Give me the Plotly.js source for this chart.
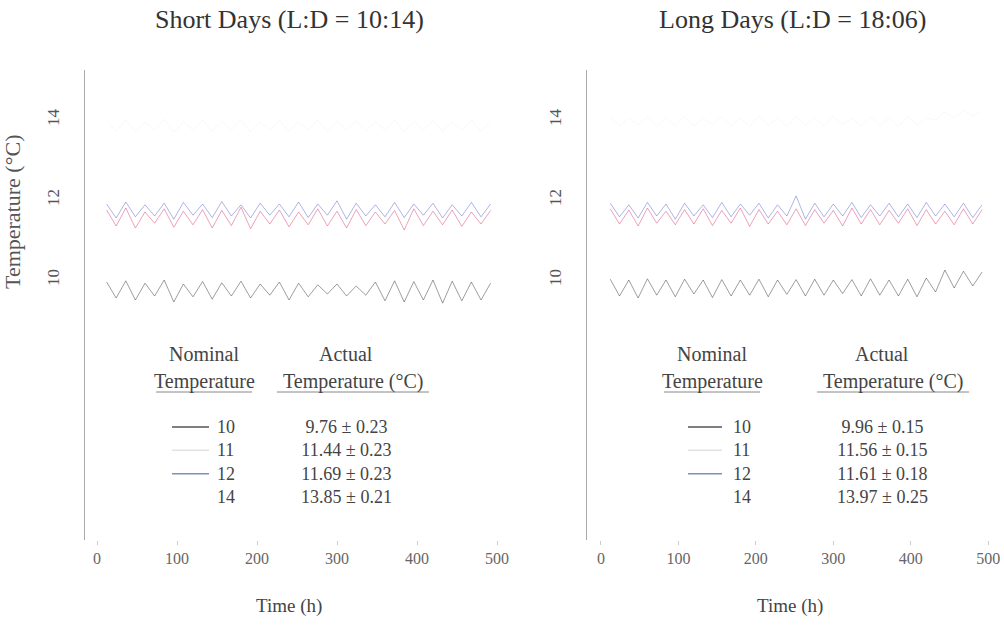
<!DOCTYPE html>
<html>
<head>
<meta charset="utf-8">
<script src="https://cdn.plot.ly/plotly-3.0.1.min.js"></script>
<style>html,body{margin:0;padding:0;background:#fff;}#chart{width:1004px;height:631px;}</style>
</head>
<body>
<div id="chart"></div>
<script>
// ---- data (12-h samples) ----
const timeH = [12,24,36,48,60,72,84,96,108,120,132,144,156,168,180,192,204,216,228,240,252,264,276,288,300,312,324,336,348,360,372,384,396,408,420,432,444,456,468,480,492];

const shortT10 = [9.95,9.55,9.98,9.50,9.92,9.60,10.0,9.45,9.90,9.58,9.96,9.52,9.93,9.60,9.97,9.55,9.90,9.62,9.95,9.50,9.92,9.58,9.88,9.65,9.90,9.60,9.85,9.62,9.95,9.48,9.98,9.45,9.96,9.50,10.0,9.42,9.97,9.48,9.95,9.50,9.92];
const shortT11 = [11.75,11.35,11.80,11.30,11.70,11.42,11.78,11.32,11.72,11.38,11.76,11.30,11.74,11.36,11.82,11.28,11.72,11.40,11.75,11.33,11.70,11.38,11.78,11.35,11.72,11.30,11.76,11.36,11.70,11.40,11.74,11.25,11.78,11.36,11.72,11.38,11.75,11.34,11.70,11.40,11.74];
const shortT12 = [11.90,11.55,11.95,11.58,11.88,11.60,11.92,11.52,11.94,11.62,11.90,11.56,11.96,11.60,11.88,11.55,11.92,11.62,11.90,11.58,11.95,11.56,11.90,11.62,11.98,11.52,11.92,11.60,11.88,11.58,11.94,11.56,11.90,11.62,11.92,11.55,11.88,11.60,11.94,11.58,11.90];
const shortT14 = [13.98,13.72,14.00,13.70,13.95,13.75,14.02,13.70,13.96,13.74,14.00,13.72,13.97,13.75,14.01,13.70,13.95,13.76,13.99,13.72,13.96,13.74,14.00,13.71,13.97,13.75,13.98,13.72,13.96,13.74,14.00,13.70,13.97,13.75,13.99,13.72,13.96,13.74,14.00,13.72,13.97];

const longT10 = [10.02,9.60,10.00,9.55,10.03,9.62,10.00,9.58,10.02,9.65,10.00,9.56,10.01,9.60,10.00,9.62,10.02,9.58,10.00,9.64,10.01,9.60,10.02,9.62,10.00,9.66,10.01,9.60,10.03,9.62,10.00,9.60,10.02,9.58,10.05,9.70,10.25,9.80,10.22,9.85,10.20];
const longT11 = [11.78,11.40,11.75,11.35,11.80,11.42,11.72,11.38,11.76,11.40,11.78,11.36,11.74,11.42,11.80,11.34,11.76,11.40,11.72,11.38,11.78,11.36,11.76,11.42,11.74,11.35,11.80,11.40,11.76,11.38,11.74,11.42,11.78,11.36,11.76,11.40,11.72,11.38,11.78,11.40,11.76];
const longT12 = [11.92,11.58,11.88,11.55,11.94,11.60,11.90,11.52,11.92,11.60,11.88,11.56,11.94,11.58,11.90,11.62,11.92,11.55,11.88,11.60,12.10,11.52,11.92,11.58,11.90,11.60,11.94,11.56,11.88,11.60,11.92,11.58,11.90,11.56,11.94,11.60,11.90,11.58,11.92,11.56,11.88];
const longT14 = [14.10,13.85,14.05,13.88,14.08,13.84,14.06,13.86,14.10,13.85,14.04,13.88,14.08,13.86,14.06,13.84,14.10,13.87,14.05,13.85,14.08,13.86,14.06,13.84,14.10,13.88,14.05,13.85,14.08,13.86,14.06,13.84,14.10,13.87,14.05,14.00,14.20,14.05,14.25,14.10,14.22];

const nominal = ["10","11","12","14"];
const actualShort = ["9.76 ± 0.23","11.44 ± 0.23","11.69 ± 0.23","13.85 ± 0.21"];
const actualLong = ["9.96 ± 0.15","11.56 ± 0.15","11.61 ± 0.18","13.97 ± 0.25"];
const xTicks = [0,100,200,300,400,500];
const yTicks = [10,12,14];

// ---- styling ----
const W = 1004, H = 631;
const xp = px => px / W, yp = py => 1 - py / H;
const serif = "Liberation Serif";
const lineColors = ["rgba(40,40,40,0.45)", "rgba(215,70,120,0.5)", "rgba(70,90,200,0.45)", "rgba(220,215,200,0.18)"];
const swatchColors = ["#555", "#e2e2e2", "#7d92b8", "rgba(0,0,0,0)"];

const shortSeries = [shortT10, shortT11, shortT12, shortT14];
const longSeries = [longT10, longT11, longT12, longT14];

const traces = [];
shortSeries.forEach((s, i) => traces.push({x: timeH, y: s, type: 'scatter', mode: 'lines', xaxis: 'x', yaxis: 'y', line: {color: lineColors[i], width: 1}, showlegend: false, hoverinfo: 'skip'}));
longSeries.forEach((s, i) => traces.push({x: timeH, y: s, type: 'scatter', mode: 'lines', xaxis: 'x2', yaxis: 'y2', line: {color: lineColors[i], width: 1}, showlegend: false, hoverinfo: 'skip'}));

const yRange = [3.5, 15.25];
const yDomain = [yp(540), yp(70)];
function xAxis(domain, range) {
  return {domain: domain, range: range, tickvals: xTicks, ticks: 'outside', ticklen: 4, tickcolor: '#ccc',
    showline: false, showgrid: false, zeroline: false,
    tickfont: {family: serif, size: 16, color: '#666'}};
}
function yAxis(domain, anchor) {
  return {domain: domain, range: yRange, tickvals: yTicks, tickangle: -90, ticks: '', ticklabelstandoff: 18,
    showline: true, linecolor: '#aaa', linewidth: 1, showgrid: false, zeroline: false, anchor: anchor,
    tickfont: {family: serif, size: 17, color: '#555'}};
}

const annotations = [];
const shapes = [];
function txt(x, y, text, size, opts) {
  annotations.push(Object.assign({xref: 'paper', yref: 'paper', x: xp(x), y: yp(y), text: text, showarrow: false,
    xanchor: 'center', yanchor: 'middle', font: {family: serif, size: size, color: '#444'}}, opts || {}));
}
function hline(x0, x1, y, color, w) {
  shapes.push({type: 'line', xref: 'paper', yref: 'paper', x0: xp(x0), x1: xp(x1), y0: yp(y), y1: yp(y), line: {color: color, width: w || 1}});
}

txt(289, 19, "Short Days (L:D = 10:14)", 26, {font: {family: serif, size: 26, color: '#333'}});
txt(792, 19, "Long Days (L:D = 18:06)", 26, {font: {family: serif, size: 26, color: '#333'}});
txt(289, 606, "Time (h)", 19);
txt(790, 606, "Time (h)", 19);
txt(12, 212, "Temperature (°C)", 22, {textangle: -90, font: {family: serif, size: 22, color: '#555'}});

const rowSize = 18;
const rowStep = rowSize * 1.3;
function table(cx1, cx2, cx3, lineX0, lineX1, numX, actual) {
  txt(cx1, 354, "Nominal", 20);
  txt(cx1, 381, "Temperature", 20);
  hline(cx1 - 48, cx1 + 48, 392, '#888');
  txt(cx2, 354, "Actual", 20);
  txt(cx3, 381, "Temperature (°C)", 20);
  hline(cx3 - 76, cx3 + 76, 392, '#888');
  const midY = 462;
  txt(numX, midY, nominal.join("<br>"), rowSize, {xanchor: 'left', align: 'left'});
  txt(cx2, midY, actual.join("<br>"), rowSize, {align: 'center'});
  nominal.forEach((n, i) => {
    const ry = midY + (i - 1.5) * rowStep;
    hline(lineX0, lineX1, ry, swatchColors[i], 1.5);
  });
}
table(204, 346, 353, 172, 209, 215, actualShort);
table(712, 882, 893, 688, 722, 731, actualLong);

const layout = {
  width: W, height: H, margin: {l: 0, r: 0, t: 0, b: 0},
  paper_bgcolor: '#fff', plot_bgcolor: '#fff', showlegend: false,
  font: {family: serif},
  xaxis: xAxis([xp(85), xp(501)], [-15, 505]),
  yaxis: yAxis(yDomain, 'x'),
  xaxis2: Object.assign(xAxis([xp(587), xp(996)], [-18, 510]), {anchor: 'y2'}),
  yaxis2: yAxis(yDomain, 'x2'),
  annotations: annotations, shapes: shapes
};
layout.xaxis.anchor = 'y';

Plotly.newPlot('chart', traces, layout, {displayModeBar: false, staticPlot: true});
</script>
</body>
</html>
